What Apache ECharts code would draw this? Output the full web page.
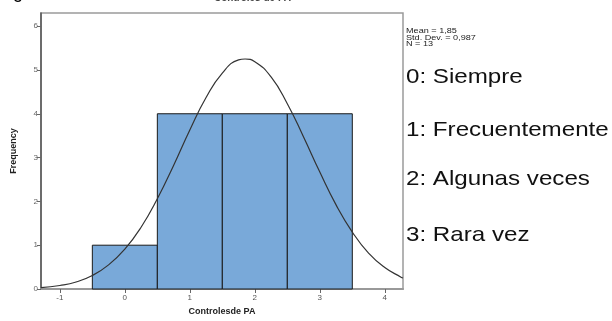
<!DOCTYPE html>
<html>
<head>
<meta charset="utf-8">
<script src="https://cdn.jsdelivr.net/npm/echarts@6/dist/echarts.min.js"></script>
<style>
  html, body { margin: 0; padding: 0; background: #fff; }
  #chart { width: 612px; height: 321px; }
</style>
</head>
<body>
<div id="chart"></div>
<script>
// histogram bins: [from, to, frequency]
const binStart = [-0.5, 0.5, 1.5, 2.5];
const binEnd = [0.5, 1.5, 2.5, 3.5];
const frequency = [1, 4, 4, 4];

// normal curve
const curveX = [-1.29, -1, -0.75, -0.5, -0.25, 0, 0.25, 0.5, 0.75, 1, 1.25, 1.5, 1.75, 1.85, 2, 2.25, 2.5, 2.75, 3, 3.25, 3.5, 3.75, 4, 4.25, 4.28];
const curveY = [0.03, 0.08, 0.16, 0.31, 0.55, 0.91, 1.41, 2.06, 2.82, 3.63, 4.37, 4.93, 5.23, 5.25, 5.19, 4.84, 4.23, 3.47, 2.67, 1.92, 1.30, 0.82, 0.49, 0.27, 0.25];

const xTicks = [-1, 0, 1, 2, 3, 4];
const yTicks = [0, 1, 2, 3, 4, 5, 6];

const stats = ['Mean = 1,85', 'Std. Dev. = 0,987', 'N = 13'];
const categoryLabels = ['0: Siempre', '1: Frecuentemente', '2: Algunas veces', '3: Rara vez'];
const labelY = [77, 130, 179, 235];

const chart = echarts.init(document.getElementById('chart'));

const font = 'Liberation Sans, Arial, sans-serif';

let graphics = [
  { type: 'text', x: -2, y: -16, style: { text: 'Figura 55', font: '18px ' + font, fill: '#000' } },
  { type: 'text', x: 214, y: -7, style: { text: 'Controles de PA', font: 'bold 10px ' + font, fill: '#444' } },
  { type: 'text', x: 406, y: 28, scaleX: 1.3, style: { text: stats.join('\n'), font: '7px ' + font, lineHeight: 6.5, fill: '#222' } }
];
categoryLabels.forEach((t, i) => {
  graphics.push({
    type: 'text', x: 406, y: labelY[i], scaleX: 1.15,
    style: { text: t, font: '21px ' + font, fill: '#111', verticalAlign: 'middle' }
  });
});

const bins = binStart.map((s, i) => [s, binEnd[i], frequency[i]]);

chart.setOption({
  animation: false,
  grid: { left: 41, top: 13, right: 209, bottom: 28, show: true, borderColor: '#9a9a9a', borderWidth: 1.5 },
  xAxis: {
    type: 'value', min: -1.29, max: 4.28,
    name: 'Controlesde PA', nameLocation: 'middle', nameGap: 18,
    nameTextStyle: { fontFamily: font, fontWeight: 'bold', fontSize: 9, color: '#222' },
    axisLine: { show: true, onZero: false, lineStyle: { color: '#999', width: 2 } },
    axisTick: { show: true, customValues: xTicks, length: 4, lineStyle: { color: '#666' } },
    axisLabel: { customValues: xTicks, fontFamily: font, fontSize: 8, color: '#555', margin: 5 },
    splitLine: { show: false }
  },
  yAxis: {
    type: 'value', min: 0, max: 6.3,
    name: 'Frequency', nameLocation: 'middle', nameGap: 23,
    nameTextStyle: { fontFamily: font, fontWeight: 'bold', fontSize: 9, color: '#222' },
    axisLine: { show: true, onZero: false, lineStyle: { color: '#555', width: 1.5 } },
    axisTick: { show: true, customValues: yTicks, length: 4, lineStyle: { color: '#666' } },
    axisLabel: { customValues: yTicks, fontFamily: font, fontSize: 8, color: '#666', margin: 3 },
    splitLine: { show: false }
  },
  graphic: graphics,
  series: [
    {
      type: 'custom',
      data: bins,
      encode: { x: [0, 1], y: 2 },
      renderItem: function (params, api) {
        const p0 = api.coord([api.value(0), 0]);
        const p1 = api.coord([api.value(1), api.value(2)]);
        return {
          type: 'rect',
          shape: { x: p0[0], y: p1[1], width: p1[0] - p0[0], height: p0[1] - p1[1] },
          style: { fill: '#79a9d9', stroke: '#1a1a1a', lineWidth: 1 }
        };
      },
      z: 2
    },
    {
      type: 'line',
      data: curveX.map((x, i) => [x, curveY[i]]),
      smooth: true,
      showSymbol: false,
      lineStyle: { color: '#333', width: 1.2 },
      z: 3
    }
  ]
});
</script>
</body>
</html>
